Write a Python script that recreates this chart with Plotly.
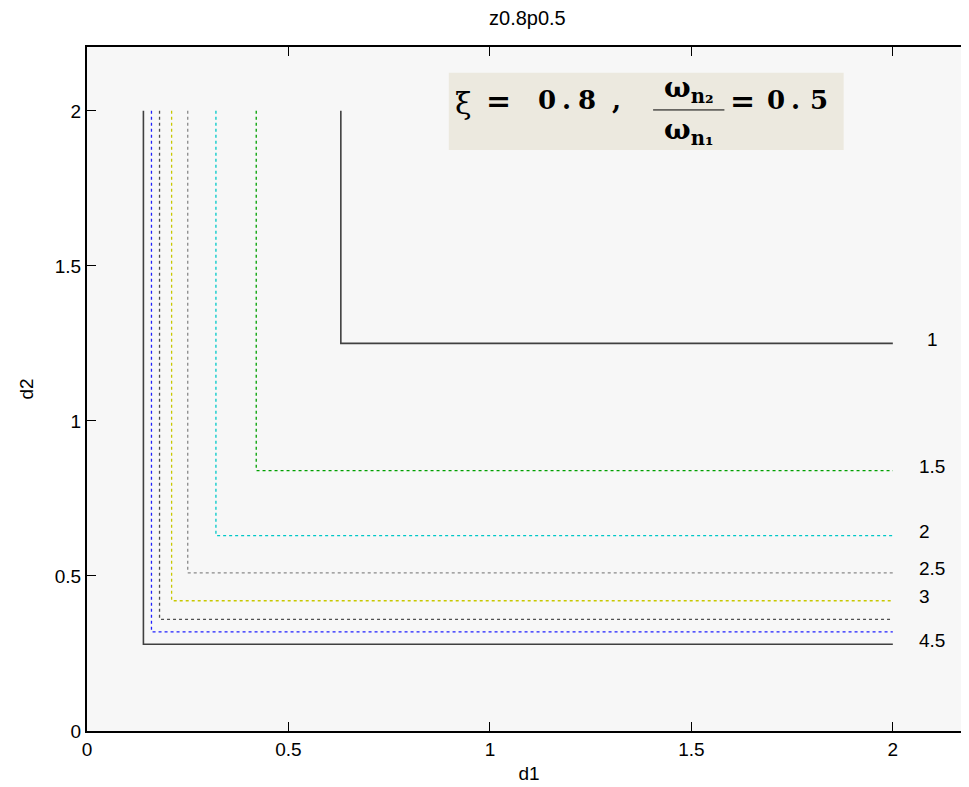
import plotly.graph_objects as go

# ---- data ----
levels = ["1", "1.5", "2", "2.5", "3", "3.5", "4", "4.5"]
corner_d1 = [0.63, 0.42, 0.32, 0.25, 0.21, 0.18, 0.16, 0.14]
corner_d2 = [1.25, 0.84, 0.63, 0.51, 0.42, 0.36, 0.32, 0.28]
d_max = 2.0
labelled_levels = ["1", "1.5", "2", "2.5", "3", "4.5"]
x_ticks = [0, 0.5, 1, 1.5, 2]
y_ticks = [0, 0.5, 1, 1.5, 2]

# ---- styles ----
colors = ["#404040", "#00a000", "#00c8c8", "#8a8a8a", "#c8c800", "#505050", "#2020ff", "#404040"]
dashes = ["solid", "dot", "dot", "dot", "dot", "dot", "dot", "solid"]
widths = [1.6, 1.3, 1.3, 1.3, 1.3, 1.3, 1.3, 1.6]
SANS = "Liberation Sans, Arial"

fig = go.Figure()
for lev, a, b, c, d, w in zip(levels, corner_d1, corner_d2, colors, dashes, widths):
    fig.add_trace(go.Scatter(
        x=[a, a, d_max], y=[d_max, b, b], mode="lines",
        line=dict(color=c, dash=d, width=w), name=lev, showlegend=False,
        hoverinfo="skip"))

annos = []
label_dx = {"1": 0.02}
for lev in labelled_levels:
    i = levels.index(lev)
    annos.append(dict(x=2.06 + label_dx.get(lev, 0), y=corner_d2[i], xref="x", yref="y", text=lev,
                      showarrow=False, xanchor="left", yanchor="middle", yshift=4,
                      font=dict(family=SANS, size=19, color="black")))

def eq(x, y, t, size=26, weight="bold"):
    annos.append(dict(x=x, y=y, xref="x", yref="y", text=t, showarrow=False,
                      xanchor="center", yanchor="middle",
                      font=dict(family="DejaVu Serif", size=size, color="black", weight=weight)))

eq(0.935, 2.025, "ξ", size=30, weight="normal")
eq(1.022, 2.035, "=", size=30)
eq(1.142, 2.035, "0")
eq(1.189, 2.035, ".")
eq(1.241, 2.035, "8")
eq(1.313, 2.035, ",")
eq(1.493, 2.068, "ω<sub>n₂</sub>", size=28)
eq(1.493, 1.935, "ω<sub>n₁</sub>", size=28)
eq(1.627, 2.035, "=", size=30)
eq(1.709, 2.035, "0")
eq(1.759, 2.035, ".")
eq(1.816, 2.035, "5")

shapes = [
    dict(type="rect", xref="x", yref="y", x0=0.898, x1=1.878, y0=1.874, y1=2.123,
         fillcolor="#ece9df", line=dict(width=0), layer="below"),
    dict(type="line", xref="x", yref="y", x0=1.405, x1=1.582, y0=2.003, y1=2.003,
         line=dict(color="black", width=1)),
]

axis_common = dict(
    showgrid=False, zeroline=False, showline=True, linecolor="black", linewidth=2,
    mirror="ticks", ticks="inside", ticklen=9, tickwidth=1, tickcolor="black",
    tickfont=dict(family=SANS, size=19, color="black"),
)

fig.update_layout(
    width=969, height=787,
    margin=dict(l=79, r=4, t=39, b=64),
    paper_bgcolor="white", plot_bgcolor="#f7f7f7",
    title=dict(text="z0.8p0.5", x=0.536, xanchor="center", y=0.987, yanchor="middle",
               font=dict(family=SANS, size=20, color="black")),
    xaxis=dict(range=[0, 2.194], tickvals=x_ticks, ticktext=[str(v) for v in x_ticks],
               title=dict(text="d1", font=dict(family=SANS, size=19, color="black"), standoff=8),
               **axis_common),
    yaxis=dict(range=[0, 2.206], tickvals=y_ticks, ticktext=[str(v) for v in y_ticks],
               title=dict(text="d2", font=dict(family=SANS, size=19, color="black"), standoff=16),
               **axis_common),
    annotations=annos, shapes=shapes,
)

fig.write_html("out.html")
